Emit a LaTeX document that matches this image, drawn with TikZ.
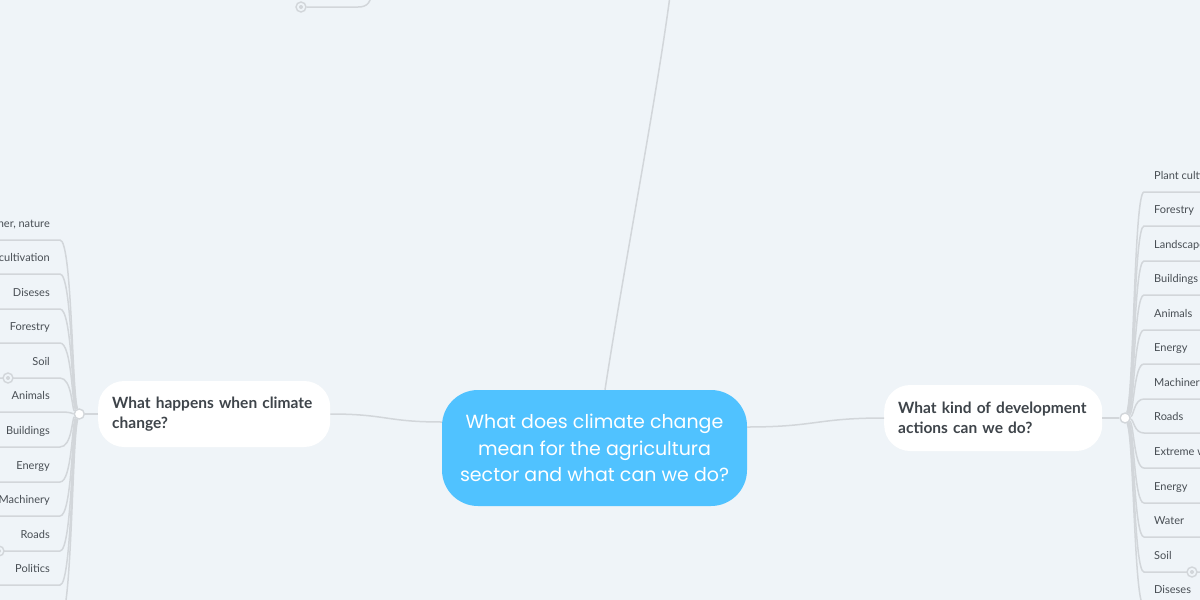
\documentclass[tikz,border=0pt]{standalone}
\usepackage{fontspec}
\setmainfont{Lato}
\newfontfamily\popfont{Poppins}
\usetikzlibrary{positioning}

\definecolor{bgcol}{RGB}{239,244,248}
\definecolor{hubcol}{RGB}{80,194,255}
\definecolor{linecol}{RGB}{210,214,218}
\definecolor{inkcol}{RGB}{62,68,74}
\definecolor{leafcol}{RGB}{72,78,84}

\begin{document}
\begin{tikzpicture}[x=1pt,y=-1pt,
    link/.style={draw=linecol, line width=1.5pt},
    hub/.style={fill=hubcol, rounded corners=36pt, text=white, align=center,
      font=\popfont\fontsize{19}{26.5}\selectfont,
      minimum width=305pt, minimum height=116pt, inner sep=0pt},
    topic/.style={fill=white, rounded corners=26pt, text=inkcol, align=left,
      font=\bfseries\fontsize{15.5}{20}\selectfont,
      minimum height=66pt, inner xsep=14pt, inner ysep=0pt},
    knob/.style={circle, draw=linecol, line width=1.4pt, fill=white,
      minimum size=10pt, inner sep=0pt},
    fold/.style={circle, draw=linecol, line width=1.4pt, fill=bgcol,
      minimum size=10pt, inner sep=0pt,
      path picture={\fill[linecol] (path picture bounding box.center) circle (2pt);}},
    leaf/.style={text=leafcol, font=\fontsize{11}{13}\selectfont,
      inner xsep=10pt, inner ysep=10pt, text height=8pt, text depth=2.5pt}
  ]

  \useasboundingbox (0,0) rectangle (1200,600);
  \fill[bgcol] (0,0) rectangle (1200,600);
  \clip (0,0) rectangle (1200,600);

  % main topics
  \node[hub] (root) at (594.5,448)
    {What does climate change\\mean for the agricultura\\sector and what can we do?};
  \node[topic, text width=204pt, anchor=west] (happen) at (98,414)
    {\mbox{What happens when climate}\\change?};
  \node[topic, text width=190pt, anchor=west] (act) at (884,418)
    {\mbox{What kind of development}\\actions can we do?};

  \node[knob, left=13pt of happen] (hk) {};
  \node[knob, right=17pt of act] (ak) {};

  \coordinate (edgel) at (-10,0);
  \coordinate (edger) at (1210,0);
  \coordinate (up) at (672,-20);
  \coordinate (upl) at (372,-10);

  \draw[link] ([yshift=26pt]root.west) .. controls (386,422) and (386,414) .. (happen.east);
  \draw[link] ([yshift=21pt]root.east) .. controls (816,427) and (816,418) .. (act.west);
  \draw[link] ([xshift=10.5pt]root.north) .. controls (625,260) and (660,80) .. (up);
  \draw[link] (happen.west) -- (hk);
  \draw[link] (act.east) -- (ak);

  % left branch
  \foreach \i/\txt/\yl in {1/{Weather, nature}/240, 2/Plant cultivation/274,
      3/Diseses/309, 4/Forestry/343, 5/Soil/378, 6/Animals/412,
      7/Buildings/447, 8/Energy/482, 9/Machinery/516, 10/Roads/551,
      11/Politics/585, 12/{}/620} {
    \pgfmathsetmacro\ya{414+0.12*(\yl-414)}
    \node[leaf, anchor=south east] (hl\i) at (60,\yl) {\txt};
    \draw[link] (hk) .. controls (72,\ya) and (72,\yl) .. (hl\i.south east)
      -- (hl\i.south east -| edgel);
  }

  % right branch
  \foreach \i/\txt/\yl in {1/Plant cultivation/192, 2/Forestry/226,
      3/Landscape/261, 4/Buildings/295, 5/Animals/330, 6/Energy/364,
      7/Machinery/399, 8/Roads/433, 9/Extreme weather/468, 10/Energy/503,
      11/Water/537, 12/Soil/572, 13/Diseses/606} {
    \pgfmathsetmacro\ya{418+0.12*(\yl-418)}
    \node[leaf, anchor=south west] (ar\i) at (1144,\yl) {\txt};
    \draw[link] (ak) .. controls (1134,\ya) and (1134,\yl) .. (ar\i.south west)
      -- (ar\i.south west -| edger);
  }

  % folded branches
  \node[fold] (f1) at (8,378) {};
  \node[fold] (f2) at (-1,551) {};
  \node[fold] (f3) at (1192,572) {};
  \node[fold] (f4) at (301,7) {};
  \draw[link] (f4) -- (358,7) .. controls (368,7) and (371,2) .. (upl);

\end{tikzpicture}
\end{document}
